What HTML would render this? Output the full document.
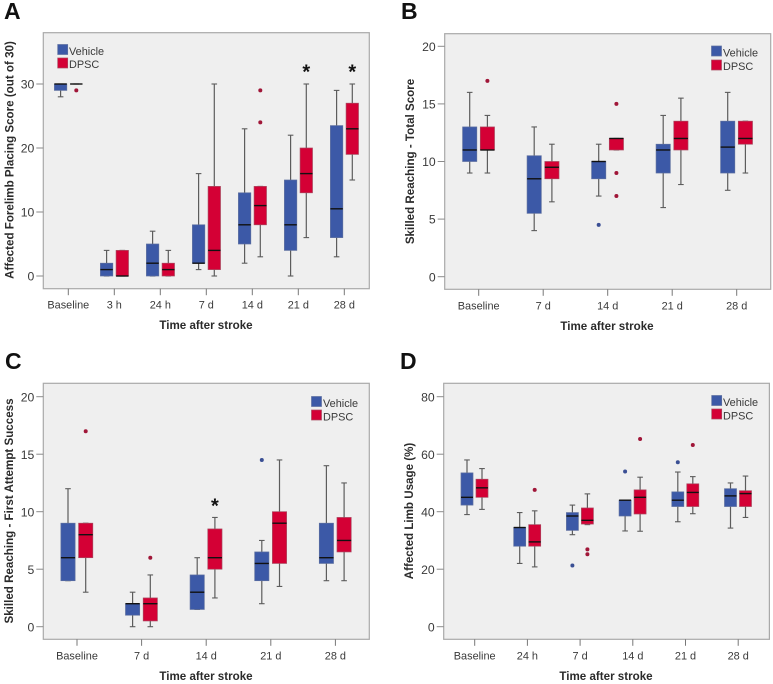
<!DOCTYPE html>
<html lang="en">
<head>
<meta charset="utf-8">
<title>Behavioural outcomes after stroke</title>
<style>
html,body{margin:0;padding:0;background:#fff;}
svg{display:block;font-family:"Liberation Sans",sans-serif;filter:blur(0.3px);}
.frame{fill:#efefef;stroke:#a9a9a9;stroke-width:1.2;}
.letter{font-size:23px;font-weight:bold;fill:#111;}
.title{font-size:11.6px;font-weight:bold;fill:#2b2b2b;text-anchor:middle;}
.legend-text{font-size:10.9px;fill:#3a3a3a;}
.blue{fill:#3c59a7;stroke:#5d6f9f;stroke-width:.7;}
.red{fill:#d40035;stroke:#a8485f;stroke-width:.7;}
</style>
</head>
<body>
<svg id="figure" width="773" height="684" viewBox="0 0 773 684" xmlns="http://www.w3.org/2000/svg">
  <g id="panel-a">
    <text class="letter" x="4" y="19">A</text>
    <rect class="frame" x="43.3" y="32.7" width="326" height="256"/>
    <text class="title" transform="translate(13.5,160) rotate(-90)">Affected Forelimb Placing Score (out of 30)</text>
    <text class="title" x="206" y="329">Time after stroke</text>
    <rect class="blue" x="57.7" y="44.5" width="10" height="10"/>
    <text class="legend-text" x="69" y="55">Vehicle</text>
    <rect class="red" x="57.7" y="58" width="10" height="10"/>
    <text class="legend-text" x="69" y="68">DPSC</text>
  </g>
  <g id="panel-b">
    <text class="letter" x="401" y="19">B</text>
    <rect class="frame" x="444.7" y="33.7" width="326" height="255.6"/>
    <text class="title" transform="translate(414,161.5) rotate(-90)">Skilled Reaching - Total Score</text>
    <text class="title" x="607" y="330">Time after stroke</text>
    <rect class="blue" x="711.5" y="46" width="10" height="10"/>
    <text class="legend-text" x="723" y="56.5">Vehicle</text>
    <rect class="red" x="711.5" y="60" width="10" height="10"/>
    <text class="legend-text" x="723" y="70">DPSC</text>
  </g>
  <g id="panel-c">
    <text class="letter" x="5" y="369">C</text>
    <rect class="frame" x="43.3" y="383.3" width="326" height="256"/>
    <text class="title" transform="translate(13,511) rotate(-90)">Skilled Reaching - First Attempt Success</text>
    <text class="title" x="206" y="680">Time after stroke</text>
    <rect class="blue" x="311.5" y="396.5" width="10" height="10"/>
    <text class="legend-text" x="323" y="407">Vehicle</text>
    <rect class="red" x="311.5" y="410" width="10" height="10"/>
    <text class="legend-text" x="323" y="420.5">DPSC</text>
  </g>
  <g id="panel-d">
    <text class="letter" x="400" y="369">D</text>
    <rect class="frame" x="443.7" y="383.3" width="325.7" height="256"/>
    <text class="title" transform="translate(413,511) rotate(-90)">Affected Limb Usage (%)</text>
    <text class="title" x="606" y="680">Time after stroke</text>
    <rect class="blue" x="711.7" y="395.5" width="10" height="10"/>
    <text class="legend-text" x="723" y="406">Vehicle</text>
    <rect class="red" x="711.7" y="409" width="10" height="10"/>
    <text class="legend-text" x="723" y="419.5">DPSC</text>
  </g>
</svg>
<script>
/* Box stats are [whisker low, Q1, median, Q3, whisker high] */
const aCategories = ['Baseline', '3 h', '24 h', '7 d', '14 d', '21 d', '28 d'];
const aTicks = [0, 10, 20, 30];
const aVehicle = [[28,29,30,30,30],[0,0,1,2,4],[0,0,2,5,7],[1,2,2,8,16],[2,5,8,13,23],[0,4,8,15,22],[3,6,10.5,23.5,29]];
const aDpsc = [[30,30,30,30,30],[0,0,0,4,4],[0,0,1,2,4],[0,1,4,14,30],[3,8,11,14,14],[6,13,16,20,30],[15,19,23,27,30]];
const aVehicleOutliers = [[],[],[],[],[],[],[]];
const aDpscOutliers = [[29],[],[],[],[24,29],[],[]];
const aStars = [[5,32.3],[6,32.3]];

const bCategories = ['Baseline', '7 d', '14 d', '21 d', '28 d'];
const bTicks = [0, 5, 10, 15, 20];
const bVehicle = [[9,10,11,13,16],[4,5.5,8.5,10.5,13],[7,8.5,10,10,11.5],[6,9,11,11.5,14],[7.5,9,11.25,13.5,16]];
const bDpsc = [[9,11,11,13,14],[6.5,8.5,9.5,10,11.5],[11,11,12,12,12],[8,11,12,13.5,15.5],[9,11.5,12,13.5,13.5]];
const bVehicleOutliers = [[],[],[4.5],[],[]];
const bDpscOutliers = [[17],[],[7,9,15],[],[]];
const bStars = [];

const cCategories = ['Baseline', '7 d', '14 d', '21 d', '28 d'];
const cTicks = [0, 5, 10, 15, 20];
const cVehicle = [[4,4,6,9,12],[0,1,2,2,3],[1.5,1.5,3,4.5,6],[2,4,5.5,6.5,7.5],[4,5.5,6,9,14]];
const cDpsc = [[3,6,8,9,9],[0,0.5,2,2.5,4.5],[2.5,5,6,8.5,9.5],[3.5,5.5,9,10,14.5],[4,6.5,7.5,9.5,12.5]];
const cVehicleOutliers = [[],[],[],[14.5],[]];
const cDpscOutliers = [[17],[6],[],[],[]];
const cStars = [[2,10.7]];

const dCategories = ['Baseline', '24 h', '7 d', '14 d', '21 d', '28 d'];
const dTicks = [0, 20, 40, 60, 80];
const dVehicle = [[39,42.3,45,53.5,58],[22,28,34.5,34.5,39.7],[32,33.5,38.5,39.7,42.3],[33.3,38.5,44,44,44],[36.5,41.8,44,46.9,53.8],[34.3,41.8,45.5,48,50]];
const dDpsc = [[40.8,45,48.3,51.3,55],[20.8,28,29.5,35.5,40.3],[35.5,35.7,37,41.3,46.2],[33.2,39.2,45,47.6,52],[39.3,41.8,46.7,49.7,52.2],[38,41.8,46.3,47.3,52.4]];
const dVehicleOutliers = [[],[],[21.3],[54],[57.2],[]];
const dDpscOutliers = [[],[47.6],[25.2,26.9],[65.3],[63.2],[]];
const dStars = [];

const NS = 'http://www.w3.org/2000/svg';

function shape(parent, tag, attrs, name) {
  const el = document.createElementNS(NS, tag);
  Object.keys(attrs).forEach(function (k) { el.setAttribute(k, attrs[k]); });
  
  
  parent.appendChild(el);
  return el;
}

function drawPanel(id, layout, categories, ticks, vehicle, dpsc, vehicleOut, dpscOut, stars) {
  const g = document.getElementById('panel-' + id);
  const yMax = ticks[ticks.length - 1];
  const yAxis = function (v) { return layout.y0 + (layout.yTop - layout.y0) * v / yMax; };
  const xAxis = function (i) { return layout.x0 + layout.step * i; };

  ticks.forEach(function (t) {
    const y = yAxis(t);
    shape(g, 'line', {x1: layout.left - 7, x2: layout.left, y1: y, y2: y, stroke: '#8a8a8a', 'stroke-width': 1}, id + '-y-tick-mark-' + t);
    const lab = shape(g, 'text', {x: layout.left - 9, y: y + 4.6, 'text-anchor': 'end', 'font-size': 12.2, fill: '#3a3a3a'}, id + '-y-tick-label-' + t);
    lab.textContent = t;
  });

  categories.forEach(function (c, i) {
    const x = xAxis(i);
    shape(g, 'line', {x1: x, x2: x, y1: layout.bottom, y2: layout.bottom + 6.5, stroke: '#777', 'stroke-width': 1}, id + '-x-tick-mark-' + i);
    const lab = shape(g, 'text', {x: x, y: layout.bottom + 20, 'text-anchor': 'middle', 'font-size': 10.9, fill: '#3a3a3a'}, id + '-x-tick-label-' + i);
    lab.textContent = c;
  });

  function drawSeries(stats, outliers, offset, key, fill, edge, dot) {
    stats.forEach(function (s, i) {
      const cx = xAxis(i) + offset;
      const w = layout.boxWidth;
      const capHalf = 2.8;
      const base = id + '-' + key + '-' + i;
      shape(g, 'line', {x1: cx, x2: cx, y1: yAxis(s[0]), y2: yAxis(s[4]), stroke: '#5c5c5c', 'stroke-width': 1.2}, base + '-whisker');
      shape(g, 'line', {x1: cx - capHalf, x2: cx + capHalf, y1: yAxis(s[0]), y2: yAxis(s[0]), stroke: '#5c5c5c', 'stroke-width': 1.1}, base + '-cap-low');
      shape(g, 'line', {x1: cx - capHalf, x2: cx + capHalf, y1: yAxis(s[4]), y2: yAxis(s[4]), stroke: '#5c5c5c', 'stroke-width': 1.1}, base + '-cap-high');
      shape(g, 'rect', {x: cx - w / 2, y: yAxis(s[3]), width: w, height: yAxis(s[1]) - yAxis(s[3]), fill: fill, stroke: edge, 'stroke-width': 0.7}, base + '-box');
      shape(g, 'line', {x1: cx - w / 2, x2: cx + w / 2, y1: yAxis(s[2]), y2: yAxis(s[2]), stroke: '#111', 'stroke-width': 1.4}, base + '-median');
      outliers[i].forEach(function (o, j) {
        shape(g, 'circle', {cx: cx, cy: yAxis(o), r: 2, fill: dot}, base + '-outlier-' + j);
      });
    });
  }
  drawSeries(vehicle, vehicleOut, layout.offV, 'vehicle', '#3c59a7', '#5d6f9f', '#3a4f94');
  drawSeries(dpsc, dpscOut, layout.offD, 'dpsc', '#d40035', '#a8485f', '#a01638');

  stars.forEach(function (st, i) {
    const star = shape(g, 'text', {x: xAxis(st[0]) + layout.offD, y: yAxis(st[1]) + 9, 'text-anchor': 'middle', 'font-size': 20, 'font-weight': 'bold', fill: '#111'}, id + '-significance-star-' + i);
    star.textContent = '*';
  });
}

drawPanel('a', {left: 43.3, bottom: 288.7, y0: 276, yTop: 84, x0: 68.3, step: 46, offV: -7.7, offD: 8, boxWidth: 12.4},
  aCategories, aTicks, aVehicle, aDpsc, aVehicleOutliers, aDpscOutliers, aStars);
drawPanel('b', {left: 444.7, bottom: 289.3, y0: 276.7, yTop: 46.3, x0: 478.7, step: 64.5, offV: -9, offD: 8.7, boxWidth: 14.2},
  bCategories, bTicks, bVehicle, bDpsc, bVehicleOutliers, bDpscOutliers, bStars);
drawPanel('c', {left: 43.3, bottom: 639.3, y0: 626.7, yTop: 396.7, x0: 77, step: 64.6, offV: -9, offD: 8.7, boxWidth: 14.2},
  cCategories, cTicks, cVehicle, cDpsc, cVehicleOutliers, cDpscOutliers, cStars);
drawPanel('d', {left: 443.7, bottom: 639.3, y0: 626.7, yTop: 396.7, x0: 474.7, step: 52.7, offV: -7.7, offD: 7.3, boxWidth: 12},
  dCategories, dTicks, dVehicle, dDpsc, dVehicleOutliers, dDpscOutliers, dStars);
</script>
</body>
</html>
